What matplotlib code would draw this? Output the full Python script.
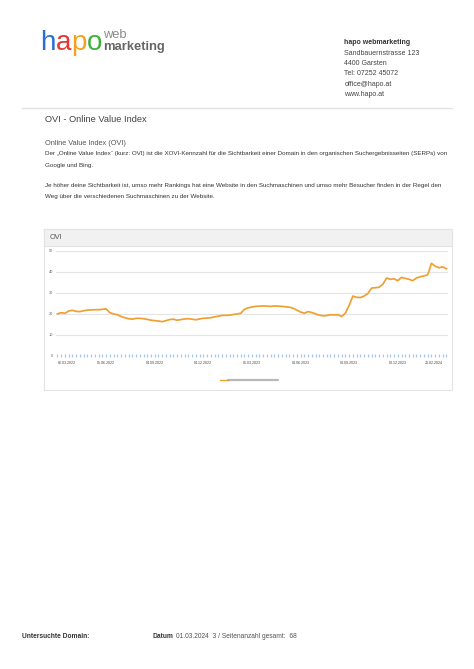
import matplotlib
matplotlib.use('Agg')
import matplotlib.pyplot as plt
import matplotlib.dates as mdates
import datetime as dt
from matplotlib.patches import Rectangle
from matplotlib.lines import Line2D

plt.rcParams['font.family'] = ['Liberation Sans', 'DejaVu Sans']

# ---------------- data ----------------
start_date = dt.date(2022, 3, 6)
n_weeks = 105
ovi_values = [
    19.9, 20.5, 20.2, 21.3, 21.6, 21.1, 21.0, 21.4, 21.7, 21.8,
    21.9, 21.9, 22.1, 22.3, 20.5, 19.9, 19.5, 18.7, 18.1, 17.6,
    17.4, 17.8, 17.8, 17.6, 17.3, 16.9, 16.7, 16.5, 16.2, 16.7,
    17.2, 17.4, 16.9, 17.2, 17.5, 17.6, 17.4, 17.1, 17.5, 17.8,
    17.9, 18.1, 18.5, 18.8, 19.2, 19.2, 19.3, 19.6, 19.9, 20.2,
    22.1, 22.8, 23.2, 23.5, 23.6, 23.7, 23.6, 23.5, 23.7, 23.6,
    23.5, 23.3, 23.1, 22.6, 21.7, 20.8, 20.2, 21.0, 20.6, 19.9,
    19.3, 19.0, 19.1, 19.5, 19.4, 19.5, 18.7, 20.3, 24.0, 28.4,
    27.8, 27.7, 28.4, 29.6, 32.2, 32.4, 32.6, 34.0, 37.0, 36.4,
    36.6, 35.7, 37.3, 36.8, 36.4, 35.7, 37.0, 37.6, 38.0, 38.5,
    44.0, 42.6, 41.9, 42.3, 41.4,
]
dates = [start_date + dt.timedelta(weeks=i) for i in range(n_weeks)]
x_tick_labels = ["06.03.2022", "05.06.2022", "04.09.2022", "04.12.2022",
                 "05.03.2023", "04.06.2023", "03.09.2023", "03.12.2023",
                 "25.02.2024"]
y_ticks = [0, 10, 20, 30, 40, 50]
series_name = "OVI"

# ---------------- page ----------------
W, H = 474, 669
fig = plt.figure(figsize=(W / 100, H / 100), dpi=100)
fig.patch.set_facecolor('white')


def fx(x):
    return x / W


def fy(y):
    return 1 - y / H


def txt(x, y, s, size, color='#333333', weight='normal', ha='left', **kw):
    fig.text(fx(x), fy(y), s, fontsize=size, color=color, fontweight=weight,
             ha=ha, va='center', **kw)


# logo
logo_letters = [("h", 40, '#2a6fd6'), ("a", 55.5, '#e53935'),
                ("p", 71, '#f5a11c'), ("o", 86.5, '#3db03a')]
for ch, lx, col in logo_letters:
    txt(lx, 43, ch, 20, color=col)
txt(103, 35.5, "web", 9.3, color='#8a8a8a')
txt(103, 47, "marketing", 9.4, color='#666666', weight='bold')

# address block
txt(344.5, 43, "hapo webmarketing", 5.0, color='#333333', weight='bold')
addr_lines = ["Sandbauernstrasse 123", "4400 Garsten", "Tel: 07252 45072",
              "office@hapo.at", "www.hapo.at"]
for i, line in enumerate(addr_lines):
    txt(344.5, 53.5 + 10.2 * i, line, 5.0, color='#444444')

# separator
fig.add_artist(Line2D([fx(22), fx(452)], [fy(107.5), fy(107.5)],
                      color='#e2e2e2', lw=1.0))

txt(45, 120, "OVI - Online Value Index", 6.7, color='#444444')
txt(45, 143.5, "Online Value Index (OVI)", 5.3, color='#555555')
para_size = 4.5
txt(45, 153.5, "Der \u201eOnline Value Index\u201c (kurz: OVI) ist die XOVI-Kennzahl f\u00fcr die "
    "Sichtbarkeit einer Domain in den organischen Suchergebnisseiten (SERPs) von",
    para_size, color='#333333')
txt(45, 165, "Google und Bing.", para_size, color='#333333')
txt(45, 185, "Je h\u00f6her deine Sichtbarkeit ist, umso mehr Rankings hat eine Website in den "
    "Suchmaschinen und umso mehr Besucher finden in der Regel den", para_size, color='#333333')
txt(45, 196.5, "Weg \u00fcber die verschiedenen Suchmaschinen zu der Website.", para_size,
    color='#333333')

# chart panel
panel = Rectangle((fx(44), fy(390)), fx(452) - fx(44), fy(229) - fy(390),
                  transform=fig.transFigure, facecolor='white',
                  edgecolor='#e3e3e3', lw=0.8, zorder=-5)
fig.add_artist(panel)
header = Rectangle((fx(44), fy(246)), fx(452) - fx(44), fy(229) - fy(246),
                   transform=fig.transFigure, facecolor='#f1f1f1',
                   edgecolor='#e3e3e3', lw=0.8, zorder=-4)
fig.add_artist(header)
txt(50, 237.5, "OVI", 5.3, color='#555555')

# axes
ax_left, ax_right, ax_top, ax_bottom = 56, 448, 250.7, 355.7
ax = fig.add_axes([fx(ax_left), fy(ax_bottom), (ax_right - ax_left) / W,
                   (ax_bottom - ax_top) / H])
ax.patch.set_alpha(0)
for s in ax.spines.values():
    s.set_visible(False)

xnum = mdates.date2num(dates)
ax.set_xlim(xnum[0] - 2.8, xnum[-1] + 3.0)
ax.set_ylim(0, 50)

for v in y_ticks[1:]:
    ax.axhline(v, color='#e4e4e4', lw=0.8, zorder=1)
ax.vlines(xnum, -0.8, 0.8, color='#a8c8ea', lw=0.9, zorder=2, clip_on=False)
ax.plot(xnum, ovi_values, color='#f0a033', lw=1.25, zorder=3, clip_on=False,
        solid_joinstyle='round')

tick_dates = [mdates.date2num(dt.datetime.strptime(t, "%d.%m.%Y")) for t in x_tick_labels]
ax.set_xticks(tick_dates)
ax.set_xticklabels(x_tick_labels, fontsize=2.6, color='#444444')
labels = ax.get_xticklabels()
labels[0].set_ha('left')
labels[-1].set_ha('right')
ax.tick_params(axis='x', length=0, pad=3.6)
ax.set_yticks(y_ticks)
ax.set_yticklabels([str(v) for v in y_ticks], fontsize=2.8, color='#666666')
ax.tick_params(axis='y', length=0, pad=2.2)

# legend (domain name redacted in the reference)
fig.add_artist(Line2D([fx(220), fx(227.5)], [fy(380), fy(380)],
                      color='#f0a033', lw=1.0))
fig.add_artist(Line2D([fx(228), fx(278)], [fy(380), fy(380)],
                      color='#a6a6a6', lw=1.6, alpha=0.8, solid_capstyle='round'))

# footer
txt(22.5, 637, "Untersuchte Domain:", 4.75, color='#333333', weight='bold')
txt(152.5, 637, "Datum", 4.75, color='#333333', weight='bold')
txt(176.5, 637, "01.03.2024  3 / Seitenanzahl gesamt:  68", 4.75, color='#555555')

fig.savefig("out.png", dpi=100)
